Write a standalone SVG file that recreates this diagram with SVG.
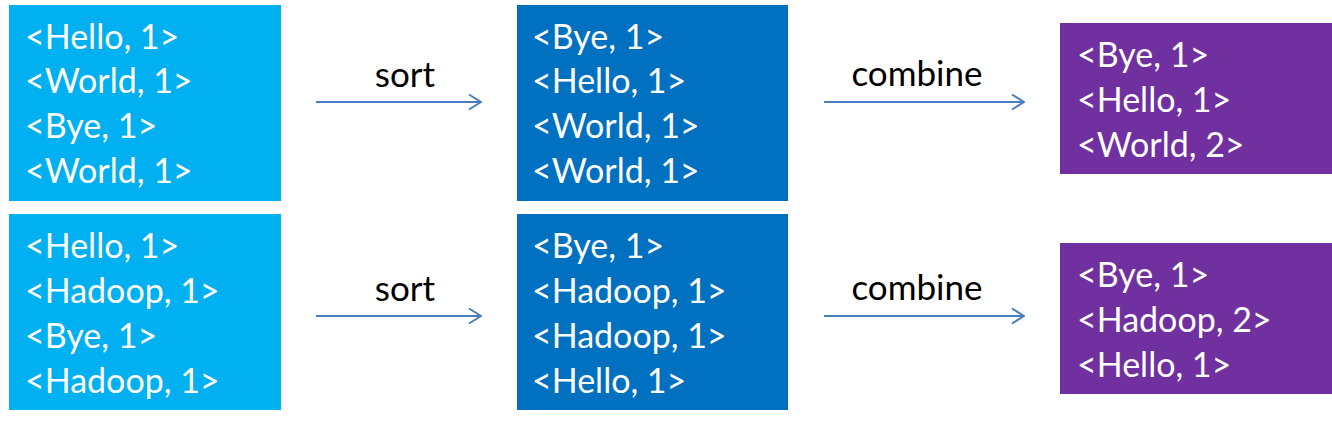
<svg xmlns="http://www.w3.org/2000/svg" width="1332" height="425" viewBox="0 0 1332 425">
<defs>
<style>
.t{font-family:Lato,"Noto Sans",sans-serif;font-size:34px;fill:#fff}
.l{font-family:Lato,"Noto Sans",sans-serif;font-size:35px;fill:#000;text-anchor:middle}
.a{stroke:#4A7CC4;stroke-width:2;fill:none;marker-end:url(#ah)}
.in{fill:#00B0F0}.mid{fill:#0070C0}.out{fill:#7030A0}
</style>
<marker id="ah" viewBox="0 0 14 18" refX="13" refY="9" markerWidth="14" markerHeight="18" markerUnits="userSpaceOnUse" orient="auto">
<path d="M1,1.5 L13,9 L1,16.5" fill="none" stroke="#4A7CC4" stroke-width="2"/>
</marker>
</defs>
<rect width="1332" height="425" fill="#fff"/>
<g id="input1"><rect class="in" x="9" y="5" width="272" height="196"/>
<text class="t" x="25" y="49">&lt;Hello, 1&gt;</text>
<text class="t" x="25" y="93">&lt;World, 1&gt;</text>
<text class="t" x="25" y="138">&lt;Bye, 1&gt;</text>
<text class="t" x="25" y="183">&lt;World, 1&gt;</text></g>
<g id="sorted1"><rect class="mid" x="517" y="5" width="271" height="196"/>
<text class="t" x="532" y="49">&lt;Bye, 1&gt;</text>
<text class="t" x="532" y="93">&lt;Hello, 1&gt;</text>
<text class="t" x="532" y="138">&lt;World, 1&gt;</text>
<text class="t" x="532" y="183">&lt;World, 1&gt;</text></g>
<g id="combined1"><rect class="out" x="1060" y="23" width="272" height="151"/>
<text class="t" x="1077" y="67">&lt;Bye, 1&gt;</text>
<text class="t" x="1077" y="112">&lt;Hello, 1&gt;</text>
<text class="t" x="1077" y="157">&lt;World, 2&gt;</text></g>
<g id="input2"><rect class="in" x="9" y="214" width="272" height="196"/>
<text class="t" x="25" y="258">&lt;Hello, 1&gt;</text>
<text class="t" x="25" y="303">&lt;Hadoop, 1&gt;</text>
<text class="t" x="25" y="348">&lt;Bye, 1&gt;</text>
<text class="t" x="25" y="393">&lt;Hadoop, 1&gt;</text></g>
<g id="sorted2"><rect class="mid" x="517" y="214" width="271" height="196"/>
<text class="t" x="532" y="258">&lt;Bye, 1&gt;</text>
<text class="t" x="532" y="303">&lt;Hadoop, 1&gt;</text>
<text class="t" x="532" y="348">&lt;Hadoop, 1&gt;</text>
<text class="t" x="532" y="393">&lt;Hello, 1&gt;</text></g>
<g id="combined2"><rect class="out" x="1060" y="243" width="272" height="151"/>
<text class="t" x="1077" y="287">&lt;Bye, 1&gt;</text>
<text class="t" x="1077" y="332">&lt;Hadoop, 2&gt;</text>
<text class="t" x="1077" y="377">&lt;Hello, 1&gt;</text></g>
<g id="connectors">
<line class="a" x1="316" y1="102" x2="481" y2="102"/>
<line class="a" x1="824" y1="102" x2="1024" y2="102"/>
<line class="a" x1="316" y1="316" x2="481" y2="316"/>
<line class="a" x1="824" y1="316" x2="1024" y2="316"/>
<text class="l" x="405" y="87">sort</text>
<text class="l" x="917" y="86">combine</text>
<text class="l" x="405" y="301">sort</text>
<text class="l" x="917" y="300">combine</text>
</g>
</svg>
